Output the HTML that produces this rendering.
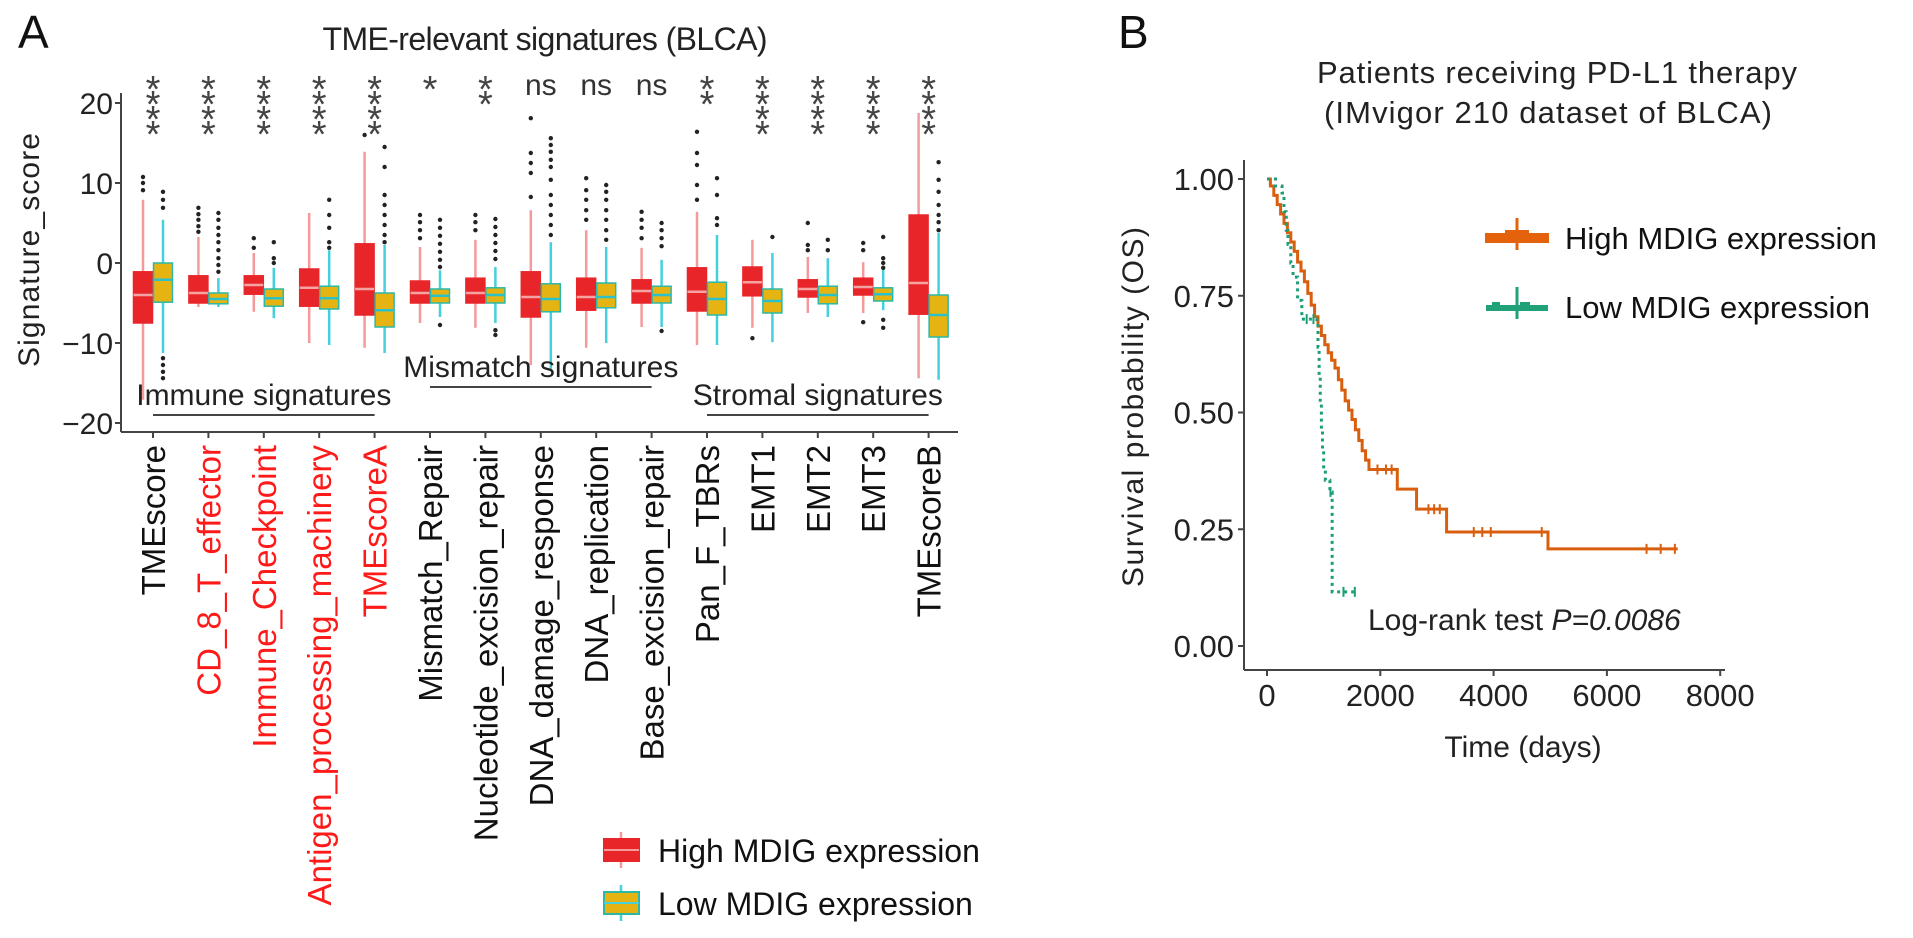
<!DOCTYPE html>
<html><head><meta charset="utf-8">
<style>
html,body{margin:0;padding:0;background:#fff;}
svg{display:block;font-family:"Liberation Sans",Arial,sans-serif;}
</style></head>
<body>
<svg id="fig" width="1913" height="938" viewBox="0 0 1913 938" xmlns="http://www.w3.org/2000/svg">
  <text x="18" y="48" font-size="46" fill="#111">A</text>
  <text x="1118" y="48" font-size="46" fill="#111">B</text>
  <text x="545" y="50" font-size="32" text-anchor="middle" fill="#222" textLength="445">TME-relevant signatures (BLCA)</text>
  <text transform="translate(39,250) rotate(-90)" font-size="30" text-anchor="middle" fill="#222" textLength="234">Signature_score</text>
  <g id="panelA"></g>
  <g id="panelB"></g>
  <text x="1557" y="83" font-size="31" text-anchor="middle" fill="#222" textLength="480">Patients receiving PD-L1 therapy</text>
  <text x="1548" y="123" font-size="31" text-anchor="middle" fill="#222" textLength="448">(IMvigor 210 dataset of BLCA)</text>
  <text transform="translate(1143,407) rotate(-90)" font-size="30" text-anchor="middle" fill="#222" textLength="360">Survival probability (OS)</text>
  <text x="1523" y="757" font-size="30" text-anchor="middle" fill="#222">Time (days)</text>
  <text x="1368" y="630" font-size="30" fill="#222">Log-rank test <tspan font-style="italic">P=0.0086</tspan></text>
</svg>
<script>
// ---------- Panel A data ----------
const categories = ["TMEscore","CD_8_T_effector","Immune_Checkpoint","Antigen_processing_machinery","TMEscoreA","Mismatch_Repair","Nucleotide_excision_repair","DNA_damage_response","DNA_replication","Base_excision_repair","Pan_F_TBRs","EMT1","EMT2","EMT3","TMEscoreB"];
const redLabels = [false,true,true,true,true,false,false,false,false,false,false,false,false,false,false];
const significance = ["****","****","****","****","****","*","**","ns","ns","ns","**","****","****","****","****"];
// [whiskerLow, q1, median, q3, whiskerHigh]
const highStats = [
 [-17.1,-7.5,-4,-1.1,7.9],[-5.5,-5,-3.75,-1.6,3.25],[-6.1,-3.9,-2.75,-1.6,1.25],[-10,-5.4,-3.1,-0.75,6.25],
 [-10.6,-6.5,-3.25,2.4,13.9],[-7.5,-5,-3.75,-2.25,2],[-8.1,-5,-3.75,-1.9,2.9],[-12.75,-6.75,-4.25,-1.1,6.6],
 [-10.6,-5.9,-4.25,-1.9,4.1],[-8,-5,-3.5,-2.1,1.9],[-10.25,-6,-3.6,-0.6,6.4],[-8.1,-4.1,-2.4,-0.5,2.9],
 [-6.25,-4.25,-3.25,-2.1,0.75],[-6.25,-4,-3,-1.9,0.1],[-14.4,-6.4,-2.5,6,18.75]];
const lowStats = [
 [-11.25,-4.9,-2.1,0,5.4],[-5.5,-5.1,-4.5,-3.75,-1.9],[-6.9,-5.4,-4.4,-3.25,-0.6],[-10.25,-5.75,-4.4,-2.9,1.6],
 [-11.25,-8,-5.9,-3.75,2.25],[-6.75,-5,-4.1,-3.25,-0.9],[-7.5,-5,-4,-3.1,-0.5],[-13.4,-6.1,-4.5,-2.6,2.6],
 [-10,-5.6,-4.25,-2.5,2],[-8,-5,-4,-2.9,0.4],[-10.25,-6.5,-4.5,-2.4,3.5],[-9.9,-6.25,-4.75,-3.25,1.25],
 [-6.75,-5.1,-4,-2.9,0.6],[-5.9,-4.75,-3.9,-3.1,-0.6],[-14.6,-9.25,-6.5,-4,3.75]];
const highOutliers = [
 [10.75,10,9.1],[6.9,6.1,5.4,4.6,3.9],[3.1,1.9],[],[16],[6,5.1,4.1,3.1],[6,5.1,4.1],
 [18.1,13.75,12.5,11.25,8.25],[10.6,9.1,7.9,6.6,5.4],[6.4,5.4,4.4,3.1],[16.4,13.75,12.25,9.75,7.9],
 [-9.4],[5,2.25,1.6],[2.5,1.6,-7.4],[]];
const lowOutliers = [
 [8.9,7.9,6.9,-11.9,-12.75,-13.6,-14.4],[6.25,5.4,4.4,3.5,2.6,1.6,0.6,-0.25,-1.1],[2.6,0.6,0],
 [7.9,6,4.4,2.6,1.9],[14.5,12,8.5,7.25,6,4.75,3.5,2.6],[5.4,4.4,3.4,2.4,1.4,0.4,-0.5,-7.75],
 [5.5,4.5,3.5,2.5,1.5,0.5,-8.4,-9],[15.6,14.75,13.9,12.9,12,10.4,8.5,7.25,6,4.75,3.5],
 [9.75,8.9,7.9,6.6,5.4,4.1,2.9],[5,4.1,3.1,2.1,-8.5],[10.6,8.5,5.6,4.75],[3.25],[2.9,1.6],
 [3.25,0.6,0,-0.6,-7.1,-8.1],[12.6,10.4,8.9,7.25,6,5.1,4.1]];
const yTicksA = [20,10,0,-10,-20];
const yTickLabelsA = ["20","10","0","\u221210","\u221220"];
const groupLabels = ["Immune signatures","Mismatch signatures","Stromal signatures"];
const groupStart = [0,5,10];
const groupEnd = [4,9,14];

// ---------- Panel B data ----------
const highT = [0,60,120,180,240,300,360,420,480,540,600,660,720,780,840,900,960,1020,1080,1140,1200,1260,1320,1380,1440,1500,1560,1620,1680,1740,1800,2300,2640,3170,4960,7250];
const highS = [1,0.985,0.965,0.945,0.925,0.905,0.885,0.865,0.845,0.822,0.803,0.78,0.755,0.73,0.705,0.685,0.665,0.645,0.628,0.612,0.595,0.57,0.548,0.525,0.505,0.485,0.463,0.44,0.418,0.398,0.378,0.336,0.293,0.244,0.208,0.208];
const highCensor = [1950,2100,2200,2850,2950,3050,3650,3800,3950,4850,6700,6950,7200];
const lowT = [0,150,265,300,340,370,420,460,540,615,880,900,920,940,960,980,1000,1030,1110,1150,1600];
const lowS = [1,0.985,0.97,0.93,0.89,0.86,0.82,0.79,0.74,0.70,0.69,0.64,0.58,0.52,0.46,0.42,0.38,0.355,0.33,0.116,0.116];
const lowCensor = [700,820,1120,1350,1550];
const xTicksB = [0,2000,4000,6000,8000];
const yTicksB = [1,0.75,0.5,0.25,0];
const yTickLabelsB = ["1.00","0.75","0.50","0.25","0.00"];

const NS = "http://www.w3.org/2000/svg";
function mk(tag, attrs, parent){
  const e = document.createElementNS(NS, tag);
  for (const k in attrs) e.setAttribute(k, attrs[k]);
  parent.appendChild(e);
  return e;
}

// ---------- Panel A ----------
const A = document.getElementById('panelA');
const axL = 121, axB = 432, axT = 93, axR = 958;
const yA = v => 263 - 8 * v;
const xA = i => 153 + 55.4 * i;
const BW = 19;

let e = mk('line',{x1:axL,y1:axT,x2:axL,y2:axB,stroke:'#444','stroke-width':2},A);


e = mk('line',{x1:axL,y1:axB,x2:axR,y2:axB,stroke:'#444','stroke-width':2},A);



yTicksA.forEach((t,i)=>{
  const y = yA(t);
  let tk = mk('line',{x1:axL-6,y1:y,x2:axL,y2:y,stroke:'#444','stroke-width':2},A);
  
  
  const tx = mk('text',{x:axL-8,y:y+11,'font-size':30,'text-anchor':'end',fill:'#222'},A);
  tx.textContent = yTickLabelsA[i];
  
  
});

function drawBox(cx, s, outs, fill, stroke, wcol, mcol, name){
  const g = mk('g',{},A);
  
  
  mk('line',{x1:cx,y1:yA(s[4]),x2:cx,y2:yA(s[3]),stroke:wcol,'stroke-width':2.5},g);
  mk('line',{x1:cx,y1:yA(s[1]),x2:cx,y2:yA(s[0]),stroke:wcol,'stroke-width':2.5},g);
  mk('rect',{x:cx-BW/2,y:yA(s[3]),width:BW,height:yA(s[1])-yA(s[3]),fill:fill,stroke:stroke,'stroke-width':1.5},g);
  mk('line',{x1:cx-BW/2,y1:yA(s[2]),x2:cx+BW/2,y2:yA(s[2]),stroke:mcol,'stroke-width':2.5},g);
  outs.forEach(o=>{ mk('circle',{cx:cx,cy:yA(o),r:2.2,fill:'#222'},g); });
}

categories.forEach((c,i)=>{
  const cx = xA(i);
  drawBox(cx-10, highStats[i], highOutliers[i], '#e8262a', '#e8262a', '#f49a9a', '#f6a3a3', 'box-high-'+i);
  drawBox(cx+10, lowStats[i], lowOutliers[i], '#e6b412', '#2cb8a8', '#44d0dc', '#2cc0c8', 'box-low-'+i);
  const tk = mk('line',{x1:cx,y1:axB,x2:cx,y2:axB+6,stroke:'#444','stroke-width':2},A);
  
  
  const lbl = mk('text',{transform:`translate(${cx+12},445) rotate(-90)`,'font-size':33,'text-anchor':'end',fill:redLabels[i]?'#ff1a1a':'#111'},A);
  lbl.textContent = c;
  
  
  const sig = significance[i];
  if (sig === 'ns'){
    const t = mk('text',{x:cx,y:95,'font-size':30,'text-anchor':'middle',fill:'#333'},A);
    t.textContent = 'ns';
    
    
  } else {
    for (let k=0;k<sig.length;k++){
      const t = mk('text',{x:cx,y:102+15*k,'font-size':38,'text-anchor':'middle',fill:'#444'},A);
      t.textContent = '*';
      
      
    }
  }
});

const groupLineY = [415,387,415];
const groupTextY = [405,377,405];
groupLabels.forEach((g,i)=>{
  const x1 = xA(groupStart[i]), x2 = xA(groupEnd[i]);
  const ln = mk('line',{x1:x1,y1:groupLineY[i],x2:x2,y2:groupLineY[i],stroke:'#444','stroke-width':2},A);
  
  
  const t = mk('text',{x:(x1+x2)/2,y:groupTextY[i],'font-size':30,'text-anchor':'middle',fill:'#222'},A);
  t.textContent = g;
  
  
});

// Legend A
const legNames = ["High MDIG expression","Low MDIG expression"];
const legFill = ['#e8262a','#e6b412'];
const legStroke = ['#e8262a','#2cb8a8'];
const legW = ['#f49a9a','#44d0dc'];
const legY = [850,903];
legNames.forEach((n,i)=>{
  const g = mk('g',{},A);
  
  
  mk('line',{x1:621,y1:legY[i]-18,x2:621,y2:legY[i]+18,stroke:legW[i],'stroke-width':2.5},g);
  mk('rect',{x:604,y:legY[i]-11,width:35,height:22,fill:legFill[i],stroke:legStroke[i],'stroke-width':2},g);
  mk('line',{x1:604,y1:legY[i],x2:639,y2:legY[i],stroke:legW[i],'stroke-width':2},g);
  const t = mk('text',{x:658,y:legY[i]+12,'font-size':32,fill:'#111'},g);
  t.textContent = n;
});

// ---------- Panel B ----------
const B = document.getElementById('panelB');
const bL = 1244, bB = 670, bT = 160, bR = 1725;
const xB = t => 1267 + t * 0.05665;
const yB = s => 646 - s * 467;

e = mk('line',{x1:bL,y1:bT,x2:bL,y2:bB,stroke:'#444','stroke-width':2},B);


e = mk('line',{x1:bL,y1:bB,x2:bR,y2:bB,stroke:'#444','stroke-width':2},B);



yTicksB.forEach((t,i)=>{
  const y = yB(t);
  const tk = mk('line',{x1:bL-6,y1:y,x2:bL,y2:y,stroke:'#444','stroke-width':2},B);
  
  
  const tx = mk('text',{x:1234,y:y+11,'font-size':31,'text-anchor':'end',fill:'#222'},B);
  tx.textContent = yTickLabelsB[i];
  
  
});
xTicksB.forEach(t=>{
  const x = xB(t);
  const tk = mk('line',{x1:x,y1:bB,x2:x,y2:bB+6,stroke:'#444','stroke-width':2},B);
  
  
  const tx = mk('text',{x:x,y:706,'font-size':31,'text-anchor':'middle',fill:'#222'},B);
  tx.textContent = String(t);
  
  
});

function stepPath(T,S){
  let d = `M${xB(T[0])},${yB(S[0])}`;
  for (let i=1;i<T.length;i++){
    d += ` H${xB(T[i])} V${yB(S[i])}`;
  }
  return d;
}
function survAt(T,S,t){
  let s = S[0];
  for (let i=0;i<T.length;i++){ if (T[i]<=t) s = S[i]; }
  return s;
}
const hp = mk('path',{d:stepPath(highT,highS),fill:'none',stroke:'#d95f0e','stroke-width':3},B);


highCensor.forEach(t=>{
  const c = mk('line',{x1:xB(t),y1:yB(survAt(highT,highS,t))-5,x2:xB(t),y2:yB(survAt(highT,highS,t))+5,stroke:'#d95f0e','stroke-width':2},B);
  
  
});
const lp = mk('path',{d:stepPath(lowT,lowS),fill:'none',stroke:'#1b9e77','stroke-width':3,'stroke-dasharray':'3,4'},B);


lowCensor.forEach(t=>{
  const c = mk('line',{x1:xB(t),y1:yB(survAt(lowT,lowS,t))-5,x2:xB(t),y2:yB(survAt(lowT,lowS,t))+5,stroke:'#1b9e77','stroke-width':2},B);
  
  
});

// Legend B
const legBNames = ["High MDIG expression","Low MDIG expression"];
const legBCol = ['#e4620c','#21a179'];
const legBY = [238,307];
legBNames.forEach((n,i)=>{
  const g = mk('g',{},B);
  
  
  if (i===0){
    mk('rect',{x:1485,y:legBY[i]-5,width:64,height:10,fill:legBCol[i]},g);
    mk('rect',{x:1505,y:legBY[i]-8,width:24,height:4,fill:legBCol[i]},g);
  } else {
    mk('rect',{x:1486,y:legBY[i]-2,width:62,height:6,fill:legBCol[i]},g);
    mk('rect',{x:1492,y:legBY[i]-5,width:8,height:4,fill:legBCol[i]},g);
    mk('rect',{x:1520,y:legBY[i]-5,width:10,height:4,fill:legBCol[i]},g);
  }
  mk('line',{x1:1517,y1:legBY[i]-20,x2:1517,y2:legBY[i]+12,stroke:legBCol[i],'stroke-width':3},g);
  const t = mk('text',{x:1565,y:legBY[i]+11,'font-size':31,fill:'#111'},g);
  t.textContent = n;
});
</script>
</body></html>
